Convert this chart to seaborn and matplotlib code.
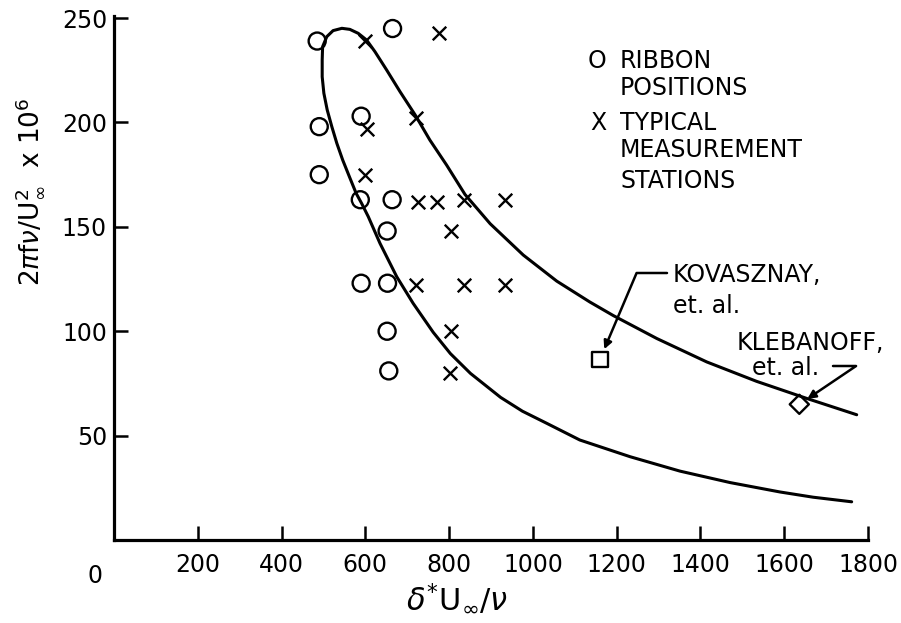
import numpy as np
import pandas as pd
import matplotlib
matplotlib.use("Agg")
import matplotlib.pyplot as plt
import seaborn as sns

# ---- data ----
ribbon_x = [485, 665, 490, 590, 490, 588, 664, 652, 590, 653, 652, 656]
ribbon_y = [239, 245, 198, 203, 175, 163, 163, 148, 123, 123, 100, 81]

station_x = [600, 775, 605, 720, 600, 726, 772, 835, 933, 805, 720, 835, 933, 805, 802]
station_y = [239, 243, 197, 202, 175, 162, 162, 163, 163, 148, 122, 122, 122, 100, 80]

kovasznay_x = [1160]
kovasznay_y = [86.5]
klebanoff_x = [1636]
klebanoff_y = [65]

# neutral curve traced from lower-right end, round the nose, to upper-right end
curve_x = [1761, 1669, 1590, 1471, 1351, 1232, 1112, 1033, 975, 923, 851, 803,
           762, 714, 675, 635, 607, 591, 578, 562, 546, 532, 520, 509, 501, 497,
           497, 498, 508, 523, 544, 563, 583, 603, 623, 651, 683, 719, 754, 794,
           838, 898, 977, 1057, 1136, 1192, 1296, 1415, 1534, 1654, 1773]
curve_y = [18.3, 20.5, 23.0, 27.5, 33.0, 39.9, 47.9, 55.9, 61.7, 68.3, 79.8, 89.3,
           99.5, 113.4, 126.1, 142.1, 154.9, 161.3, 166.1, 174.0, 182.0, 190.0,
           198.0, 206.0, 214.0, 221.9, 229.9, 236.3, 241.1, 244.0, 245.1, 244.6,
           242.7, 239.5, 233.9, 225.1, 214.7, 203.6, 191.6, 179.6, 165.5, 151.5,
           136.5, 124.0, 114.0, 107.5, 96.5, 85.3, 76.0, 67.8, 60.0]

x_ticks = [200, 400, 600, 800, 1000, 1200, 1400, 1600, 1800]
y_ticks = [50, 100, 150, 200, 250]

# ---- style ----
sns.set_theme(style="white")
plt.rcParams["font.family"] = ["DejaVu Sans"]
plt.rcParams["mathtext.fontset"] = "dejavusans"

W, H = 901, 623
fig = plt.figure(figsize=(W / 100, H / 100), dpi=100)
ax = fig.add_axes([114 / W, 1 - 540 / H, 754 / W, 524 / H])

curve = pd.DataFrame({"x": curve_x, "y": curve_y})
sns.lineplot(data=curve, x="x", y="y", sort=False, estimator=None, color="black",
             linewidth=2.2, ax=ax)

sns.scatterplot(x=ribbon_x, y=ribbon_y, marker="o", s=150, facecolors="none",
                edgecolor="black", linewidth=1.7, ax=ax, clip_on=False, zorder=3)
sns.scatterplot(x=station_x, y=station_y, marker="x", s=95, color="black",
                linewidth=1.7, ax=ax, clip_on=False, zorder=3)
sns.scatterplot(x=kovasznay_x, y=kovasznay_y, marker="s", s=125, facecolors="none",
                edgecolor="black", linewidth=1.7, ax=ax, zorder=3)
sns.scatterplot(x=klebanoff_x, y=klebanoff_y, marker="D", s=95, facecolors="none",
                edgecolor="black", linewidth=1.7, ax=ax, zorder=3)

ax.set_xlim(0, 1800)
ax.set_ylim(0, 251)
ax.set_xticks(x_ticks)
ax.set_xticklabels([str(v) for v in x_ticks])
ax.set_yticks(y_ticks)
ax.set_yticklabels([str(v) for v in y_ticks])
ax.tick_params(axis="both", direction="in", length=10, width=1.8, colors="black",
               labelsize=17, bottom=True, left=True)
ax.tick_params(axis="x", pad=9)
ax.tick_params(axis="y", pad=5)
for side in ["top", "right"]:
    ax.spines[side].set_visible(False)
for side in ["left", "bottom"]:
    ax.spines[side].set_color("black")
    ax.spines[side].set_linewidth(2.3)

# origin label
ax.text(-45, -0.045, "0", transform=ax.get_xaxis_transform(), ha="center",
        va="top", fontsize=17, color="black")

ax.set_xlabel(r"$\delta^{*}\mathrm{U}_{\infty}/\nu$", fontsize=22, color="black")
ax.xaxis.set_label_coords(0.455, -0.08)
ax.set_ylabel(r"$2\pi\mathrm{f}\nu/\mathrm{U}_{\infty}^{2}$  x $10^{6}$", fontsize=19,
              color="black")
ax.yaxis.set_label_coords(-0.09, 0.664)

# legend drawn as lettering
def ax_xy(px, py):
    return (px - 114) / 754, (540 - py) / 524

fs = 17
for sym, px, py in [("O", 597, 68), ("X", 598, 130)]:
    x, y = ax_xy(px, py)
    ax.text(x, y, sym, transform=ax.transAxes, ha="center", va="baseline",
            fontsize=fs, color="black")
for line, py in [("RIBBON", 68), ("POSITIONS", 95), ("TYPICAL", 130),
                 ("MEASUREMENT", 157), ("STATIONS", 188)]:
    x, y = ax_xy(620, py)
    ax.text(x, y, line, transform=ax.transAxes, ha="left", va="baseline",
            fontsize=fs, color="black")

# annotations
x, y = ax_xy(673, 282)
ax.text(x, y, "KOVASZNAY,", transform=ax.transAxes, ha="left", va="baseline",
        fontsize=fs, color="black")
x, y = ax_xy(673, 313)
ax.text(x, y, "et. al.", transform=ax.transAxes, ha="left", va="baseline",
        fontsize=fs, color="black")
x, y = ax_xy(737, 350)
ax.text(x, y, "KLEBANOFF,", transform=ax.transAxes, ha="left", va="baseline",
        fontsize=fs, color="black", clip_on=False)
x, y = ax_xy(752, 375)
ax.text(x, y, "et. al.", transform=ax.transAxes, ha="left", va="baseline",
        fontsize=fs, color="black")

ax.annotate("", xy=(kovasznay_x[0], kovasznay_y[0]), xycoords="data",
            xytext=ax_xy(667, 273), textcoords="axes fraction",
            arrowprops=dict(arrowstyle="-|>", color="black", lw=1.8,
                            shrinkA=0, shrinkB=8, mutation_scale=12,
                            connectionstyle="angle,angleA=0,angleB=67,rad=0"))
ax.annotate("", xy=(klebanoff_x[0], klebanoff_y[0]), xycoords="data",
            xytext=ax_xy(833, 366), textcoords="axes fraction",
            arrowprops=dict(arrowstyle="-|>", color="black", lw=1.8,
                            shrinkA=0, shrinkB=7, mutation_scale=12,
                            connectionstyle="angle,angleA=0,angleB=34,rad=0"))

fig.savefig("out.png", dpi=100)
